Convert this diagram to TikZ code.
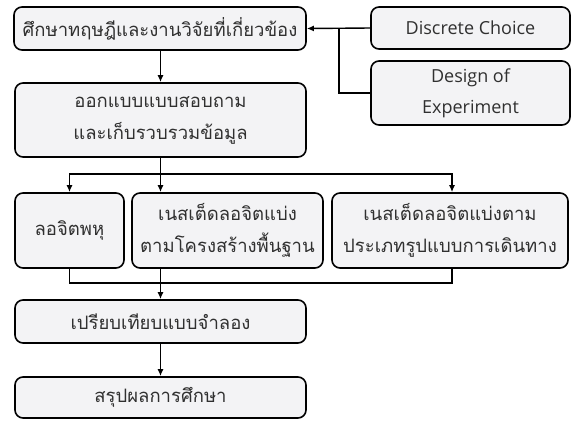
\documentclass[tikz,border=0pt]{standalone}
\usepackage{fontspec}
\setmainfont{Open Sans}
\newfontfamily\thaifont[Script=Thai]{Loma}
\usetikzlibrary{arrows.meta}
\definecolor{boxfill}{HTML}{F3F3F5}
\definecolor{txt}{HTML}{303030}
\tikzset{
  box/.style={draw=black, fill=boxfill, line width=1.6pt, rounded corners=8pt,
    inner sep=0pt, align=center, font=\thaifont\fontsize{18.5}{32}\selectfont, text=txt},
  lbox/.style={box, font=\fontsize{18}{31}\selectfont},
  conn/.style={line width=1.4pt, draw=black},
  arr/.style={conn, -{Latex[length=7pt,width=6pt]}}
}
\begin{document}
\begin{tikzpicture}[x=1pt,y=-1pt]
\useasboundingbox (0,0) rectangle (572,421);
\node[box, minimum width=292pt, minimum height=43pt] (b1) at (160,28.5) {ศึกษาทฤษฎีและงานวิจัยที่เกี่ยวข้อง};
\node[lbox, minimum width=199pt, minimum height=42pt] (dc) at (470.5,28) {Discrete Choice};
\node[lbox, minimum width=199pt, minimum height=64pt] (de) at (470.5,93) {Design of\\Experiment};
\node[box, minimum width=291pt, minimum height=74pt] (b2) at (160.5,120) {ออกแบบแบบสอบถาม\\และเก็บรวบรวมข้อมูล};
\node[box, minimum width=109pt, minimum height=75pt] (b3a) at (69.5,230.5) {ลอจิตพหุ};
\node[box, minimum width=191pt, minimum height=75pt] (b3b) at (227.5,230.5) {เนสเต็ดลอจิตแบ่ง\\ตามโครงสร้างพื้นฐาน};
\node[box, minimum width=236pt, minimum height=75pt] (b3c) at (450,230.5) {เนสเต็ดลอจิตแบ่งตาม\\ประเภทรูปแบบการเดินทาง};
\node[box, minimum width=291pt, minimum height=43pt] (b4) at (160.5,321.5) {เปรียบเทียบแบบจำลอง};
\node[box, minimum width=291pt, minimum height=41pt] (b5) at (160.5,397.5) {สรุปผลการศึกษา};
\coordinate (j) at (339,28);
\coordinate (br) at (160.5,174);
\coordinate (mg) at (160.5,283);
% top inputs
\draw[arr] (dc.west) -- (b1.east);
\draw[conn] (de.west) -| (j);
% main flow
\draw[arr] (b1.south -| b2.north) -- (b2.north);
\draw[conn] (b2.south) -- (br);
\draw[arr] (br) -| (b3a.north);
\draw[arr] (br) -- (br |- b3b.north);
\draw[arr] (br) -| ([xshift=2pt]b3c.north);
\draw[conn] (b3a.south) |- (mg);
\draw[conn] ([xshift=2pt]b3c.south) |- (mg);
\draw[arr] (mg |- b3b.south) -- (b4.north);
\draw[arr] (b4.south) -- (b5.north);
\end{tikzpicture}
\end{document}
